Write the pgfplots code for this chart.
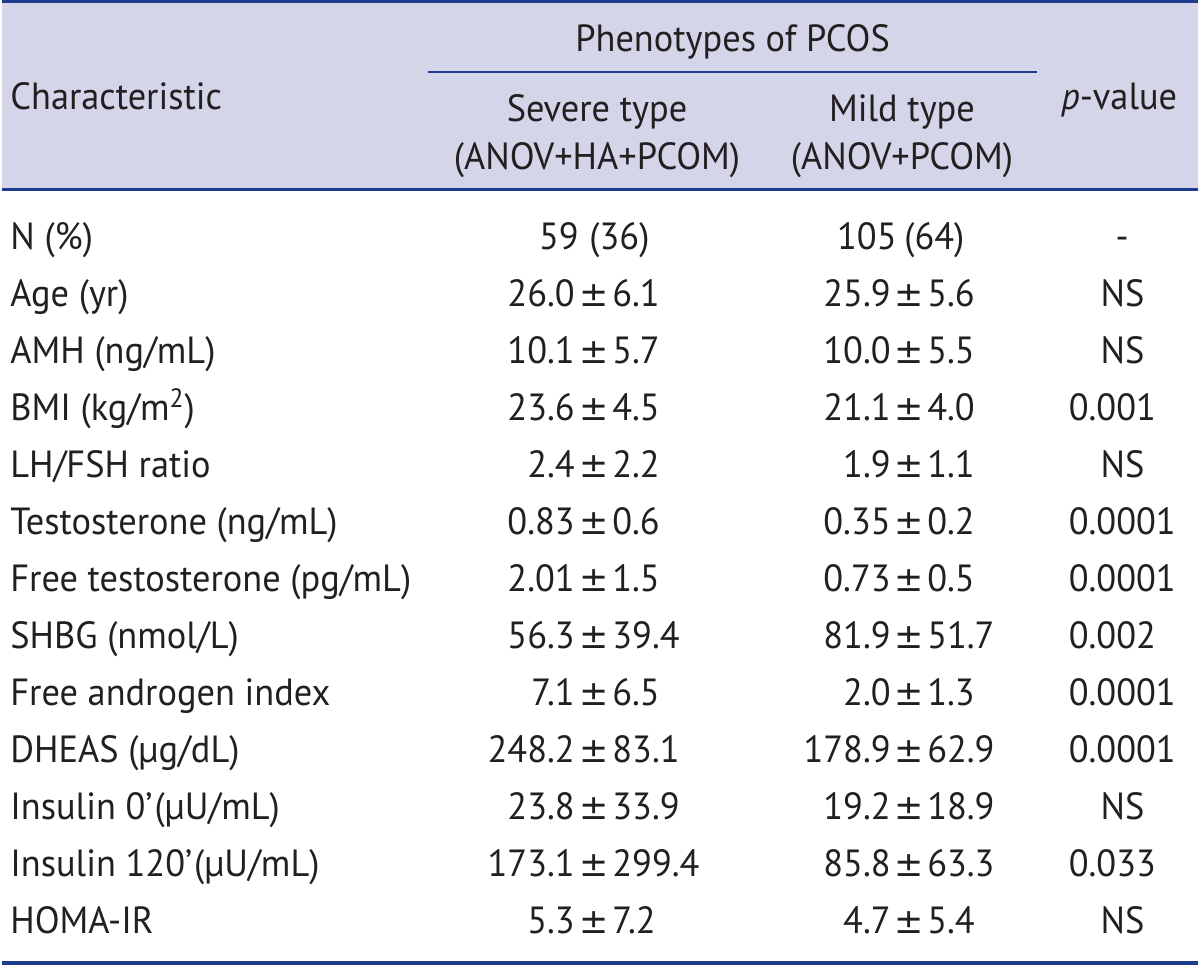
\documentclass[border=0pt]{standalone}
\usepackage{fontspec}
\setmainfont[FakeStretch=0.96]{PT Sans}
\newfontfamily\pmfont{DejaVu Sans}
\usepackage{pgfplots}
\usepackage{pgfplotstable}
\pgfplotsset{compat=1.18}
\definecolor{rulec}{RGB}{30,60,140}
\definecolor{hdr}{RGB}{212,213,233}
\definecolor{ink}{RGB}{35,31,32}
\newcommand{\bigpm}{\pmfont\fontsize{17.5}{20}\selectfont\char"00B1}

% y = baseline position (pixels from top)
\pgfplotstableread{
y lbl smean ssd mmean msd p px
307.2 {Age (yr)} 26.0 6.1 25.9 5.6 NS 1102
364.4 {AMH (ng/mL)} 10.1 5.7 10.0 5.5 NS 1102
421.6 {BMI (kg/m\textsuperscript{2})} 23.6 4.5 21.1 4.0 0.001 1070
478.8 {LH/FSH ratio} 2.4 2.2 1.9 1.1 NS 1102
536.0 {Testosterone (ng/mL)} 0.83 0.6 0.35 0.2 0.0001 1070
593.2 {Free testosterone (pg/mL)} 2.01 1.5 0.73 0.5 0.0001 1070
650.4 {SHBG (nmol/L)} 56.3 39.4 81.9 51.7 0.002 1070
707.6 {Free androgen index} 7.1 6.5 2.0 1.3 0.0001 1070
764.8 {DHEAS (µg/dL)} 248.2 83.1 178.9 62.9 0.0001 1070
822.0 {Insulin 0’\kern1pt(µU/mL)} 23.8 33.9 19.2 18.9 NS 1102
879.2 {Insulin 120’\kern1pt(µU/mL)} 173.1 299.4 85.8 63.3 0.033 1070
936.4 {HOMA-IR} 5.3 7.2 4.7 5.4 NS 1102
}\stats

\pgfplotstableread{
y lbl sn sp mn mp p px
250.0 {N (\%)} 59 36 105 64 - 1117
}\nrow

\begin{document}
\fontsize{19}{22}\selectfont
\begin{tikzpicture}
\begin{axis}[
  scale only axis, width=600pt, height=484pt,
  xmin=0, xmax=1200, ymin=0, ymax=968, y dir=reverse,
  hide axis, clip=false,
  point meta=explicit symbolic,
  nodes near coords,
  every node near coord/.append style={inner sep=0pt, text=ink, font=\fontsize{19}{22}\selectfont},
]
% header background and rules
\fill[hdr] (axis cs:0,0) rectangle (axis cs:1200,190);
\draw[rulec, line width=1.5pt] (axis cs:0,1.5) -- (axis cs:1200,1.5);
\draw[rulec, line width=1.4pt] (axis cs:0,190) -- (axis cs:1200,190);
\draw[rulec, line width=1pt] (axis cs:427,72) -- (axis cs:1038,72);
\draw[rulec, line width=2pt] (axis cs:0,966) -- (axis cs:1200,966);

% header text
\node[anchor=base, text=ink, inner sep=0pt] at (axis cs:733,52) {Phenotypes of PCOS};
\node[anchor=base west, text=ink, inner sep=0pt] at (axis cs:8,110) {Characteristic};
\node[anchor=base, text=ink, inner sep=0pt] at (axis cs:1121,110) {\textit{p}-value};
\node[anchor=base, text=ink, inner sep=0pt] at (axis cs:597,122) {Severe type};
\node[anchor=base, text=ink, inner sep=0pt] at (axis cs:597,170) {(ANOV+HA+PCOM)};
\node[anchor=base, text=ink, inner sep=0pt] at (axis cs:903,122) {Mild type};
\node[anchor=base, text=ink, inner sep=0pt] at (axis cs:903,170) {(ANOV+PCOM)};

% row labels
\addplot[draw=none, mark=none, every node near coord/.append style={anchor=base west}]
  table[x expr=8, y=y, meta=lbl] {\stats};
\addplot[draw=none, mark=none, every node near coord/.append style={anchor=base west}]
  table[x expr=8, y=y, meta=lbl] {\nrow};

% N row
\addplot[draw=none, mark=none, every node near coord/.append style={anchor=base east}]
  table[x expr=579, y=y, meta=sn] {\nrow};
\addplot[draw=none, mark=none, every node near coord/.append style={anchor=base west}, nodes near coords={(\pgfplotspointmeta)}]
  table[x expr=589, y=y, meta=sp] {\nrow};
\addplot[draw=none, mark=none, every node near coord/.append style={anchor=base east}]
  table[x expr=898, y=y, meta=mn] {\nrow};
\addplot[draw=none, mark=none, every node near coord/.append style={anchor=base west}, nodes near coords={(\pgfplotspointmeta)}]
  table[x expr=905, y=y, meta=mp] {\nrow};
\addplot[draw=none, mark=none, every node near coord/.append style={anchor=base west}]
  table[x=px, y=y, meta=p] {\nrow};

% severe type: mean, +-, sd
\addplot[draw=none, mark=none, every node near coord/.append style={anchor=base east}]
  table[x expr=575, y=y, meta=smean] {\stats};
\addplot[draw=none, mark=none, every node near coord/.append style={anchor=base}, nodes near coords={\bigpm}]
  table[x expr=594, y=y, meta=ssd] {\stats};
\addplot[draw=none, mark=none, every node near coord/.append style={anchor=base west}]
  table[x expr=612, y=y, meta=ssd] {\stats};

% mild type
\addplot[draw=none, mark=none, every node near coord/.append style={anchor=base east}]
  table[x expr=892, y=y, meta=mmean] {\stats};
\addplot[draw=none, mark=none, every node near coord/.append style={anchor=base}, nodes near coords={\bigpm}]
  table[x expr=910, y=y, meta=msd] {\stats};
\addplot[draw=none, mark=none, every node near coord/.append style={anchor=base west}]
  table[x expr=928, y=y, meta=msd] {\stats};

% p-values
\addplot[draw=none, mark=none, every node near coord/.append style={anchor=base west}]
  table[x=px, y=y, meta=p] {\stats};
\end{axis}
\end{tikzpicture}
\end{document}
